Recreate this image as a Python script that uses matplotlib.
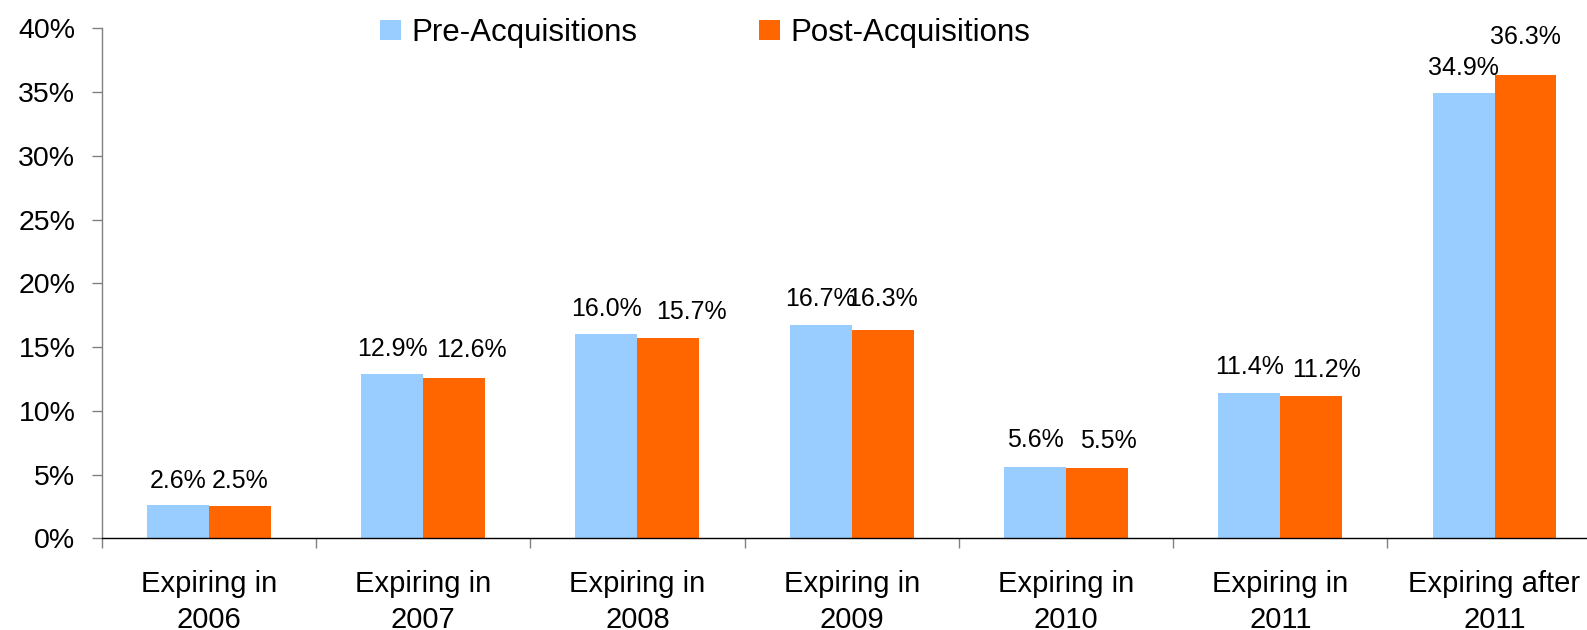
import matplotlib
matplotlib.use("Agg")
import matplotlib.pyplot as plt
import numpy as np

categories = ["Expiring in\n2006", "Expiring in\n2007", "Expiring in\n2008",
              "Expiring in\n2009", "Expiring in\n2010", "Expiring in\n2011",
              "Expiring after\n2011"]
pre_acq = [2.6, 12.9, 16.0, 16.7, 5.6, 11.4, 34.9]
post_acq = [2.5, 12.6, 15.7, 16.3, 5.5, 11.2, 36.3]
series_names = ["Pre-Acquisitions", "Post-Acquisitions"]
y_ticks = [0, 5, 10, 15, 20, 25, 30, 35, 40]

# label nudges in pixels (style only)
pre_dx = [0, 0, 0, 0, 0, 0, 0]
pre_dy = [-1, -1, 0, 1, 1, 0, 0]
post_dx = [0, 17, 23, 0, 11, 15, 0]
post_dy = [0, 2, 1, 6, 2, 0, 13]

BLUE = "#99CCFF"
ORANGE = "#FF6600"

plt.rcParams['font.family'] = ['Liberation Sans', 'DejaVu Sans']

W, H = 1587, 630
fig = plt.figure(figsize=(W / 100, H / 100), dpi=100)
ax = fig.add_axes([101.7 / W, (H - 538.3) / H, 1500.0 / W, 510.0 / H])

x = np.arange(len(categories))
bw = 0.289
b1 = ax.bar(x - bw / 2, pre_acq, width=bw, color=BLUE, label=series_names[0], zorder=2)
b2 = ax.bar(x + bw / 2, post_acq, width=bw, color=ORANGE, label=series_names[1], zorder=2)

px2pt = 0.72
base_gap = 18.5
for i, v in enumerate(pre_acq):
    ax.annotate(f"{v:.1f}%", xy=(x[i] - bw / 2, v),
                xytext=(pre_dx[i] * px2pt, (base_gap + pre_dy[i]) * px2pt),
                textcoords="offset points", ha="center", va="baseline",
                fontsize=18, color="black", annotation_clip=False)
for i, v in enumerate(post_acq):
    ax.annotate(f"{v:.1f}%", xy=(x[i] + bw / 2, v),
                xytext=(post_dx[i] * px2pt, (base_gap + post_dy[i]) * px2pt),
                textcoords="offset points", ha="center", va="baseline",
                fontsize=18, color="black", annotation_clip=False)

ax.set_xlim(-0.5, len(categories) - 0.5)
ax.set_ylim(0, 40)
ax.set_yticks(y_ticks)
ax.set_yticklabels([f"{t}%" for t in y_ticks], fontsize=20.5)

ax.set_xticks(np.arange(len(categories) + 1) - 0.5)
ax.set_xticklabels([])
ax.set_xticks(x, minor=True)
ax.set_xticklabels(categories, minor=True, fontsize=21, linespacing=1.36)

ax.tick_params(axis="x", which="major", length=7, width=1, color="#808080", direction="out")
ax.tick_params(axis="x", which="minor", length=0, pad=23)
ax.tick_params(axis="y", which="major", length=7, width=1, color="#808080", pad=12, direction="out")

for s in ["top", "right"]:
    ax.spines[s].set_visible(False)
ax.spines["left"].set_color("#808080")
ax.spines["left"].set_linewidth(1)
ax.spines["bottom"].set_color("#000000")
ax.spines["bottom"].set_linewidth(1)

fig.legend(handles=[b1, b2], labels=series_names, loc="center",
           bbox_to_anchor=(705 / W, 1 - 33 / H), ncol=2, frameon=False,
           fontsize=22.5, handlelength=0.68, handleheight=0.63,
           handletextpad=0.33, columnspacing=3.9, borderaxespad=0, borderpad=0)

fig.savefig("out.png", dpi=100)
